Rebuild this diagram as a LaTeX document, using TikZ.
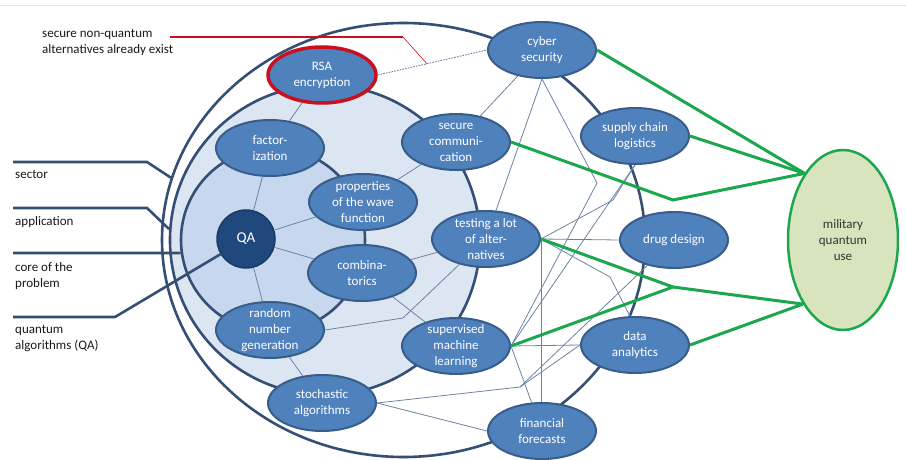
\documentclass[tikz,border=0pt]{standalone}
\usepackage{fontspec}
\setmainfont{Carlito}
\usetikzlibrary{shapes.geometric,calc}
\definecolor{nodeblue}{RGB}{79,129,189}
\definecolor{nodeedge}{RGB}{56,93,138}
\definecolor{ringblue}{RGB}{52,78,117}
\definecolor{appfill}{RGB}{220,230,242}
\definecolor{corefill}{RGB}{199,216,238}
\definecolor{qablue}{RGB}{31,73,125}
\definecolor{thinline}{RGB}{108,130,165}
\definecolor{milgreen}{RGB}{28,166,78}
\definecolor{milfill}{RGB}{215,228,189}
\definecolor{rsared}{RGB}{200,16,32}

\begin{document}
\begin{tikzpicture}[x=1pt,y=-1pt,font=\fontsize{13}{16}\selectfont,
    topic/.style={ellipse,draw=nodeedge,line width=2pt,fill=nodeblue,text=white,align=center,inner xsep=0pt,inner ysep=-6pt,minimum width=108pt,minimum height=56pt},
    ring/.style={draw=ringblue,line width=2.6pt,inner sep=0pt},
    link/.style={draw=thinline,line width=0.8pt},
    milline/.style={draw=milgreen,line width=3pt},
    tag/.style={anchor=north west,inner sep=0pt,align=left,text=black!90}]
    \useasboundingbox (0,0) rectangle (906,460);
    \draw[gray!20,line width=1pt] (0,6)--(906,6);

    \node[ring,ellipse,minimum width=483pt,minimum height=434pt] (sectorring) at (403.5,240) {};
    \node[ring,circle,fill=appfill,minimum size=310pt] (appring) at (325,240) {};
    \node[ring,circle,fill=corefill,minimum size=184pt] (corering) at (273,240) {};

    \node[tag] (alttxt) at (42,29) {secure non-quantum\\alternatives already exist};
    \node[tag] (sectortxt) at (15,170) {sector};
    \node[tag] (apptxt) at (15,216) {application};
    \node[tag] (coretxt) at (15,262) {core of the\\problem};
    \node[tag] (qatxt) at (15,325) {quantum\\algorithms (QA)};

    \node[topic,draw=rsared,line width=3.5pt] (rsa) at (322,75) {RSA\\encryption};
    \node[topic] (cyber) at (542,50) {cyber\\security};
    \node[topic] (factor) at (270,148) {factor-\\ization};
    \node[topic] (secure) at (456,142) {secure\\communi-\\cation};
    \node[topic] (supply) at (635,136) {supply chain\\logistics};
    \node[topic] (props) at (363,202) {properties\\of the wave\\function};
    \node[circle,fill=qablue,draw=qablue!80!black,line width=1.5pt,text=white,minimum size=58pt,inner sep=0pt,font=\fontsize{15}{18}\selectfont] (qa) at (246,239) {QA};
    \node[topic] (testing) at (486,239) {testing a lot\\of alter-\\natives};
    \node[topic] (drug) at (674,240) {drug design};
    \node[topic] (combi) at (362,273) {combina-\\torics};
    \node[topic] (random) at (270,330) {random\\number\\generation};
    \node[topic] (supervised) at (456,346) {supervised\\machine\\learning};
    \node[topic] (data) at (635,345) {data\\analytics};
    \node[topic] (stoch) at (322,403) {stochastic\\algorithms};
    \node[topic] (financial) at (542,431) {financial\\forecasts};
    \node[ellipse,draw=milgreen,line width=2.5pt,fill=milfill,align=center,minimum width=110pt,minimum height=180pt,inner sep=0pt,text=black!80] (military) at (843,240) {military\\quantum\\use};

    \coordinate (sectorfoot) at (13,162);
    \coordinate (appfoot) at (13,208);
    \coordinate (corefoot) at (13,253);
    \coordinate (qafoot) at (13,317);
    \coordinate (altfoot) at (170,37);
    \coordinate (altknee) at (403,37);
    \coordinate (rsahint) at ($(rsa.east)!0.45!(cyber.west)$);
    \draw[ring] (sectorfoot)--++(134,0)--(sectorring.165);
    \draw[ring] (appfoot)--++(134,0)--(appring.176);
    \draw[ring] (corefoot)--(corering.188);
    \draw[ring] (qafoot)--++(102,0)--(qa);
    \draw[rsared,line width=1.1pt] (altfoot)--(altknee);
    \draw[rsared,line width=0.6pt] (altknee)--(rsahint);
    \draw[thinline,line width=0.9pt,dash pattern=on 1.6pt off 1.2pt] (rsa.east)--(cyber.west);

    \coordinate (bcyber) at (597,183);
    \coordinate (bsupply) at (613,200);
    \coordinate (btest) at (610,277);
    \coordinate (brandom) at (403,318);
    \coordinate (bstoch) at (520,387);
    \draw[link] (rsa)--(factor);
    \draw[link] (factor)--(qa);
    \draw[link] (qa)--(props);
    \draw[link] (qa)--(combi);
    \draw[link] (qa)--(random);
    \draw[link] (props)--(secure);
    \draw[link] (secure)--(cyber);
    \draw[link] (cyber.south)--(testing);
    \draw[link] (cyber.south)--(bcyber)--(supervised.east);
    \draw[link] (supply.south)--(bsupply)--(testing.east);
    \draw[link] (supply.south)--(supervised.east);
    \draw[link] (testing.east)--(drug.west);
    \draw[link] (testing.east)--(testing.east |- financial.north);
    \draw[link] (testing.east)--(btest)--(data.100);
    \draw[link] (combi)--(testing);
    \draw[link] (combi)--(supervised);
    \draw[link] (random.east)--(brandom)--(testing);
    \draw[link] (random)--(stoch);
    \draw[link] (stoch.east)--(bstoch)--(drug);
    \draw[link] (bstoch)--(data.west);
    \draw[link] (stoch.east)--(financial.west);
    \draw[link] (supervised.east)--(data.west);
    \draw[link] (supervised.east)--(financial);

    \coordinate (bsecure) at (673,200);
    \coordinate (bmix) at (673,287);
    \draw[milline] (cyber.east)--(military.120);
    \draw[milline] (supply.east)--(military.120);
    \draw[milline] (secure.east)--(bsecure)--(military.120);
    \draw[milline] (testing.east)--(bmix)--(military.238);
    \draw[milline] (supervised.east)--(bmix);
    \draw[milline] (data.east)--(military.238);
\end{tikzpicture}
\end{document}
